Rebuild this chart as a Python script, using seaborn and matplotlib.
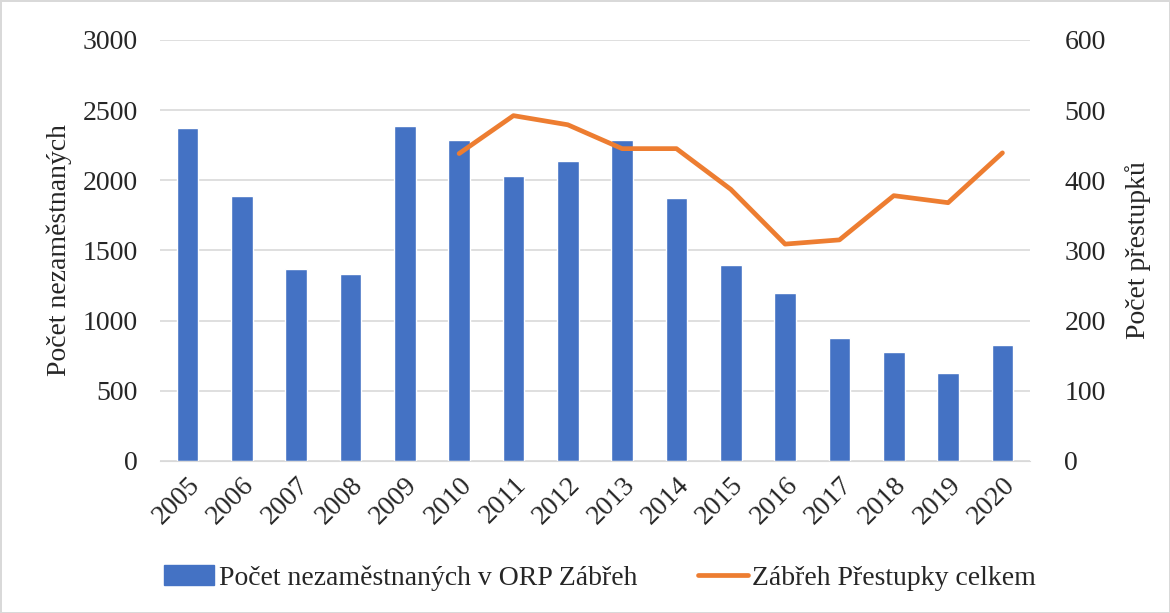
import numpy as np
import pandas as pd
import matplotlib
matplotlib.use('Agg')
import matplotlib.pyplot as plt
import seaborn as sns

years = ['2005', '2006', '2007', '2008', '2009', '2010', '2011', '2012',
         '2013', '2014', '2015', '2016', '2017', '2018', '2019', '2020']
unemployed = [2370, 1890, 1366, 1332, 2383, 2283, 2032, 2135,
              2290, 1873, 1399, 1194, 874, 773, 628, 827]
offence_years = ['2010', '2011', '2012', '2013', '2014', '2015',
                 '2016', '2017', '2018', '2019', '2020']
offences = [438, 492, 479, 445, 445, 387, 309, 315, 378, 368, 439]

bar_label = 'Počet nezaměstnaných v ORP Zábřeh'
line_label = 'Zábřeh Přestupky celkem'

sns.set_style('white')
plt.rcParams['font.family'] = ['Liberation Serif', 'DejaVu Serif']
fs = 20

fig = plt.figure(figsize=(11.7, 6.13), dpi=100, edgecolor='#D9D9D9', linewidth=2)
ax = fig.add_axes([0.137, 0.248, 0.743, 0.687])

df_bar = pd.DataFrame({'year': years, 'value': unemployed})
sns.barplot(data=df_bar, x='year', y='value', color='#4472C4', width=0.4,
            saturation=1, ax=ax, zorder=2)

ax.set_ylim(0, 3000)
ax.set_yticks(np.arange(0, 3001, 500))
ax.set_xlim(-0.5, len(years) - 0.5)
ax.grid(axis='y', color='#D9D9D9', linewidth=1.2, zorder=0)
ax.set_axisbelow(True)
for s in ['top', 'right', 'left']:
    ax.spines[s].set_visible(False)
ax.spines['bottom'].set_color('#D9D9D9')
ax.tick_params(axis='y', length=0, labelsize=fs, pad=16)
ax.tick_params(axis='x', length=0, labelsize=fs, pad=8)
ax.set_xticks(range(len(years)))
ax.set_xticklabels(years, rotation=45, ha='right', rotation_mode='anchor')
ax.set_xlabel('')
ax.set_ylabel('Počet nezaměstnaných', fontsize=fs, labelpad=8)

ax2 = ax.twinx()
df_line = pd.DataFrame({'pos': [years.index(y) for y in offence_years],
                        'value': offences})
sns.lineplot(data=df_line, x='pos', y='value', color='#ED7D31', linewidth=3.4,
             ax=ax2, solid_capstyle='round', solid_joinstyle='round')
ax2.set_ylim(0, 600)
ax2.set_yticks(np.arange(0, 601, 100))
ax2.set_xlim(-0.5, len(years) - 0.5)
for s in ['top', 'right', 'left', 'bottom']:
    ax2.spines[s].set_visible(False)
ax2.tick_params(axis='y', length=0, labelsize=fs, pad=25)
ax2.set_ylabel('Počet přestupků', fontsize=fs, labelpad=14)
ax2.set_xlabel('')

handles = [plt.Rectangle((0, 0), 1, 1, color='#4472C4'),
           plt.Line2D([0], [0], color='#ED7D31', linewidth=3.4, solid_capstyle='round')]
fig.legend(handles, [bar_label, line_label], loc='center', bbox_to_anchor=(0.513, 0.057),
           ncol=2, frameon=False, fontsize=fs, columnspacing=2.2, handlelength=1.8,
           handletextpad=0.15)

fig.savefig('out.png', dpi=100, edgecolor=fig.get_edgecolor())
